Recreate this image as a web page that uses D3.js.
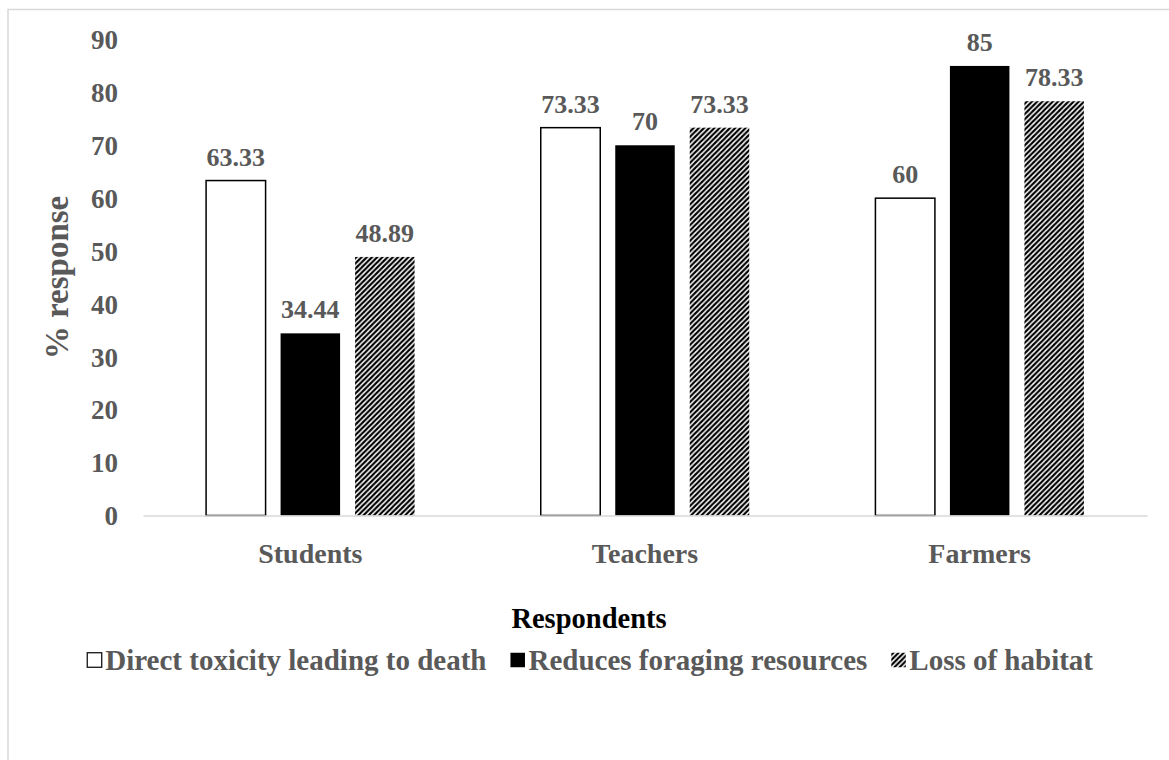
<!DOCTYPE html>
<html>
<head>
<meta charset="utf-8">
<script src="https://cdn.jsdelivr.net/npm/d3@7"></script>
<style>
  html, body { margin: 0; padding: 0; background: #fff; }
  svg { display: block; }
  svg text { font-family: "Times New Roman", "Liberation Serif", "DejaVu Serif", serif !important; font-weight: bold; }
</style>
</head>
<body>
<svg id="chart" width="1169" height="760"></svg>
<script>
// ---- data ----
const categories = ["Students", "Teachers", "Farmers"];
const seriesNames = ["Direct toxicity leading to death", "Reduces foraging resources", "Loss of habitat"];
const directToxicity = [63.33, 73.33, 60];
const reducesForaging = [34.44, 70, 85];
const lossOfHabitat = [48.89, 73.33, 78.33];
const yTicks = [0, 10, 20, 30, 40, 50, 60, 70, 80, 90];
const yTitle = "% response";
const xTitle = "Respondents";

const seriesValues = [directToxicity, reducesForaging, lossOfHabitat];

// ---- layout ----
const svg = d3.select("#chart");
const plot = { left: 143, right: 1147, top: 39.5, bottom: 515.5 };
const chartCenterX = 589;
const textGray = "#595959";
const serif = '"Times New Roman", "Liberation Serif", serif';

// hatch pattern
const defs = svg.append("defs");
const P = 5.2;
const pat = defs.append("pattern")
  .attr("id", "hatch")
  .attr("patternUnits", "userSpaceOnUse")
  .attr("width", P).attr("height", P);
pat.append("rect").attr("width", P).attr("height", P).attr("fill", "#fff");
pat.append("path")
  .attr("d", `M-1,${P + 1} L${P + 1},-1 M-1,1 L1,-1 M${P - 1},${P + 1} L${P + 1},${P - 1}`)
  .attr("stroke", "#000").attr("stroke-width", 2.2);

const fills = ["#ffffff", "#000000", "url(#hatch)"];
const strokes = ["#000000", "none", "none"];

// chart border
svg.append("rect")
  .attr("x", 8).attr("y", 9.5).attr("width", 1175).attr("height", 800)
  .attr("fill", "none").attr("stroke", "#d9d9d9").attr("stroke-width", 1.5);

const x0 = d3.scaleBand().domain(categories).range([plot.left, plot.right]).paddingInner(0).paddingOuter(0);
const barW = 59.5, barStep = 74.5;
const x1 = d3.scaleBand().domain(d3.range(3)).range([-barStep * 1.5, barStep * 1.5]);
const y = d3.scaleLinear().domain([0, 90]).range([plot.bottom, plot.top]);

// y tick labels
const yAxis = d3.axisLeft(y).tickValues(yTicks).tickSize(0).tickPadding(0).tickFormat(d3.format("d"));
const gy = svg.append("g").attr("transform", "translate(118,0)").call(yAxis);
gy.attr("font-family", serif);
gy.select(".domain").remove();
gy.selectAll("text")
  .attr("fill", textGray)
  .style("font-size", "27px")
  .attr("dy", "0.34em");

// bars
categories.forEach((cat, ci) => {
  seriesValues.forEach((vals, si) => {
    const cx = x0(cat) + x0.bandwidth() / 2 + x1(si) + x1.bandwidth() / 2;
    const v = vals[ci];
    svg.append("rect")
      .attr("x", cx - barW / 2)
      .attr("y", y(v))
      .attr("width", barW)
      .attr("height", y(0) - y(v))
      .attr("fill", fills[si])
      .attr("stroke", strokes[si])
      .attr("stroke-width", 1.5);
    svg.append("text")
      .attr("x", cx)
      .attr("y", y(v) - 15)
      .attr("text-anchor", "middle")
      .attr("fill", textGray)
      .style("font-size", "26px")
      .text(d3.format("")(v));
  });
});

// x axis
const xAxis = d3.axisBottom(x0).tickSize(0).tickPadding(0);
const gx = svg.append("g").attr("transform", `translate(0,${plot.bottom})`).call(xAxis);
gx.attr("font-family", serif);
gx.select(".domain").attr("stroke", "#d9d9d9").attr("stroke-width", 1.5);
gx.selectAll("text")
  .attr("fill", textGray)
  .attr("y", 47)
  .attr("dy", 0)
  .style("font-size", "28px");

// y title
svg.append("text")
  .attr("transform", `translate(68,${(plot.top + plot.bottom) / 2}) rotate(-90)`)
  .attr("text-anchor", "middle")
  .attr("fill", textGray)
  .style("font-size", "33px")
  .text(yTitle);

// x title
svg.append("text")
  .attr("x", chartCenterX).attr("y", 628)
  .attr("text-anchor", "middle")
  .attr("fill", "#000")
  .style("font-size", "28.5px")
  .text(xTitle);

// legend
const lg = svg.append("g");
const legendFont = 29;
const boxS = 14.5, boxGap = 3.5, itemGap = 24;
let cursor = 0;
seriesNames.forEach((name, i) => {
  const g = lg.append("g");
  g.append("rect")
    .attr("x", 0).attr("y", -boxS / 2)
    .attr("width", boxS).attr("height", boxS)
    .attr("fill", fills[i])
    .attr("stroke", i === 0 ? "#000" : "none")
    .attr("stroke-width", 1.2);
  const t = g.append("text")
    .attr("x", boxS + boxGap).attr("y", 0).attr("dy", "0.33em")
    .attr("fill", textGray)
    .style("font-size", legendFont + "px")
    .text(name);
  const w = boxS + boxGap + t.node().getComputedTextLength();
  g.attr("transform", `translate(${cursor},0)`);
  cursor += w + itemGap;
});
const totalW = cursor - itemGap;
lg.attr("transform", `translate(${1093 - totalW},660)`);
</script>
</body>
</html>
